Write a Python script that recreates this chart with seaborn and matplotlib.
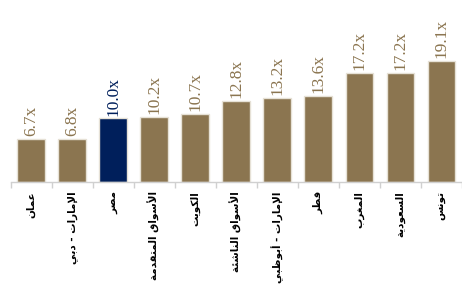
import matplotlib
matplotlib.use("Agg")
import matplotlib.pyplot as plt
import seaborn as sns
import pandas as pd
import numpy as np

# Dados do gráfico
mercados = ["عمان", "الإمارات - دبي", "مصر", "الأسواق المتقدمة", "الكويت",
            "الأسواق الناشئة", "الإمارات - أبوظبي", "قطر", "المغرب", "السعودية", "تونس"]
multiplos = [6.7, 6.8, 10.0, 10.2, 10.7, 12.8, 13.2, 13.6, 17.2, 17.2, 19.1]
destaque = "مصر"

COR_OURO = "#8B7550"
COR_AZUL = "#001F5B"

# Formas de apresentação árabes: isolada, final, inicial, medial
FORMAS = {
    "ا": (0xFE8D, 0xFE8E, None, None), "أ": (0xFE83, 0xFE84, None, None),
    "إ": (0xFE87, 0xFE88, None, None), "د": (0xFEA9, 0xFEAA, None, None),
    "ر": (0xFEAD, 0xFEAE, None, None), "و": (0xFEED, 0xFEEE, None, None),
    "ة": (0xFE93, 0xFE94, None, None),
    "ب": (0xFE8F, 0xFE90, 0xFE91, 0xFE92), "ت": (0xFE95, 0xFE96, 0xFE97, 0xFE98),
    "س": (0xFEB1, 0xFEB2, 0xFEB3, 0xFEB4), "ش": (0xFEB5, 0xFEB6, 0xFEB7, 0xFEB8),
    "ص": (0xFEB9, 0xFEBA, 0xFEBB, 0xFEBC), "ط": (0xFEC1, 0xFEC2, 0xFEC3, 0xFEC4),
    "ظ": (0xFEC5, 0xFEC6, 0xFEC7, 0xFEC8), "ع": (0xFEC9, 0xFECA, 0xFECB, 0xFECC),
    "غ": (0xFECD, 0xFECE, 0xFECF, 0xFED0), "ق": (0xFED5, 0xFED6, 0xFED7, 0xFED8),
    "ك": (0xFED9, 0xFEDA, 0xFEDB, 0xFEDC), "ل": (0xFEDD, 0xFEDE, 0xFEDF, 0xFEE0),
    "م": (0xFEE1, 0xFEE2, 0xFEE3, 0xFEE4), "ن": (0xFEE5, 0xFEE6, 0xFEE7, 0xFEE8),
    "ه": (0xFEE9, 0xFEEA, 0xFEEB, 0xFEEC), "ي": (0xFEF1, 0xFEF2, 0xFEF3, 0xFEF4),
    "ئ": (0xFE89, 0xFE8A, 0xFE8B, 0xFE8C),
}
LAM_ALEF = {"ا": (0xFEFB, 0xFEFC), "أ": (0xFEF7, 0xFEF8), "إ": (0xFEF9, 0xFEFA)}


def moldar(texto):
    """Liga as letras árabes e devolve na ordem visual (esquerda -> direita)."""
    # junta lam + alef em ligadura
    letras = []
    i = 0
    while i < len(texto):
        c = texto[i]
        if c == "ل" and i + 1 < len(texto) and texto[i + 1] in LAM_ALEF:
            letras.append(("LA", texto[i + 1]))
            i += 2
        else:
            letras.append((c, None))
            i += 1

    def liga_depois(item):
        c, _ = item
        return c in FORMAS and FORMAS[c][2] is not None

    def liga_antes(item):
        c, _ = item
        return c == "LA" or c in FORMAS

    saida = []
    for k, item in enumerate(letras):
        c, alef = item
        prev_liga = k > 0 and liga_depois(letras[k - 1]) and liga_antes(item)
        if c == "LA":
            iso, fin = LAM_ALEF[alef]
            saida.append(chr(fin if prev_liga else iso))
            continue
        if c not in FORMAS:
            saida.append(c)
            continue
        iso, fin, ini, med = FORMAS[c]
        prox_liga = (k + 1 < len(letras) and liga_depois(item) and liga_antes(letras[k + 1]))
        if prev_liga and prox_liga:
            f = med
        elif prev_liga:
            f = fin
        elif prox_liga:
            f = ini
        else:
            f = iso
        saida.append(chr(f))
    return "".join(reversed(saida))


df = pd.DataFrame({"mercado": mercados, "multiplo": multiplos})
paleta = {m: (COR_AZUL if m == destaque else COR_OURO) for m in mercados}

fig = plt.figure(figsize=(4.62, 2.87), dpi=100)
ax = fig.add_axes([10.8 / 462, 1 - 181.5 / 287, 1 - 10.8 / 462, 181.5 / 287])

sns.barplot(data=df, x="mercado", y="multiplo", hue="mercado", palette=paleta,
            order=mercados, legend=False, width=0.68, saturation=1,
            edgecolor="#E6E1D6", linewidth=1.0, ax=ax)

ax.set_xlim(-0.5, 10.41)
ax.set_ylim(0, 28.8)

# Rótulos de valor acima das barras
for i, (m, v) in enumerate(zip(mercados, multiplos)):
    ax.text(i, v + 0.45, f"{v:.1f}x", rotation=90, ha="center", va="bottom",
            fontsize=12.5, family="Liberation Serif", color=paleta[m])

ax.set_xticks(range(len(mercados)))
ax.set_xticklabels([moldar(m) for m in mercados], rotation=90, fontsize=7.5,
                   family="DejaVu Sans", fontweight="bold")
ax.tick_params(axis="x", which="major", length=0, pad=7)
ax.set_xticks(np.arange(-0.5, 11, 1), minor=True)
ax.tick_params(axis="x", which="minor", length=4, color="#D0D0D0", width=1)

ax.set_yticks([])
ax.set_xlabel("")
ax.set_ylabel("")
for lado in ["top", "right", "left"]:
    ax.spines[lado].set_visible(False)
ax.spines["bottom"].set_color("#D0D0D0")
ax.spines["bottom"].set_linewidth(1)
ax.set_facecolor("none")

fig.savefig("out.png", dpi=100)
